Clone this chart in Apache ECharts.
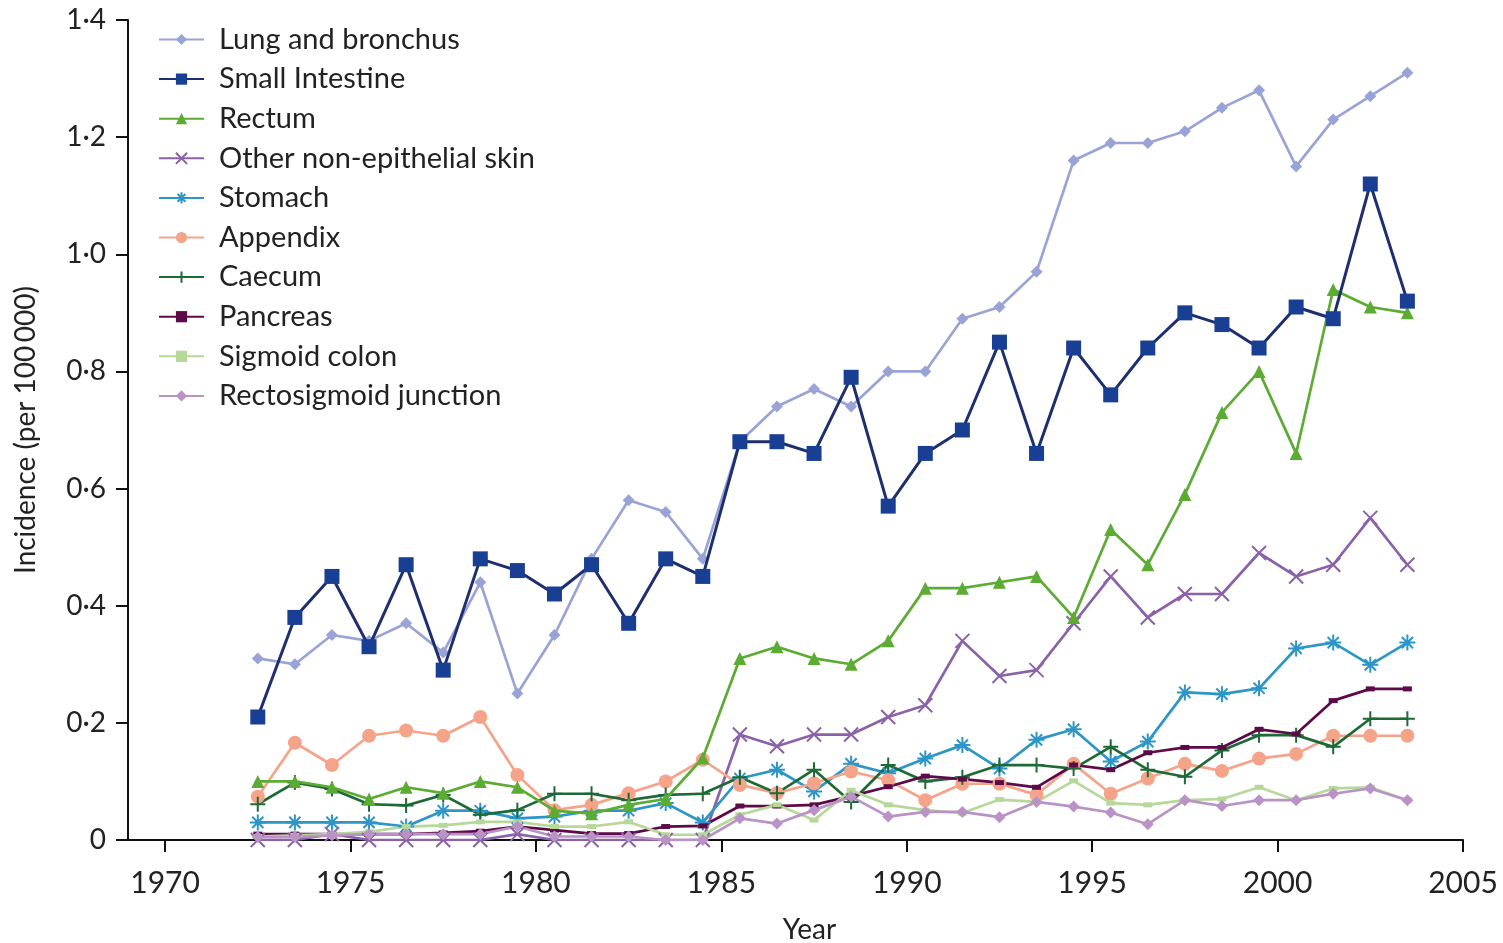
<!DOCTYPE html>
<html>
<head>
<meta charset="utf-8">
<script src="https://cdn.jsdelivr.net/npm/echarts@6/dist/echarts.min.js"></script>
<style>
html,body{margin:0;padding:0;background:#fff;}
#chart{width:1503px;height:943px;}
</style>
</head>
<body>
<div id="chart"></div>
<script>
const years = [1973,1974,1975,1976,1977,1978,1979,1980,1981,1982,1983,1984,1985,1986,1987,1988,1989,1990,1991,1992,1993,1994,1995,1996,1997,1998,1999,2000,2001,2002,2003,2004];
const xTickLabels = [1970,1975,1980,1985,1990,1995,2000,2005];

const lungBronchus = [0.31,0.30,0.35,0.34,0.37,0.32,0.44,0.25,0.35,0.48,0.58,0.56,0.48,0.68,0.74,0.77,0.74,0.80,0.80,0.89,0.91,0.97,1.16,1.19,1.19,1.21,1.25,1.28,1.15,1.23,1.27,1.31];
const smallIntestine = [0.21,0.38,0.45,0.33,0.47,0.29,0.48,0.46,0.42,0.47,0.37,0.48,0.45,0.68,0.68,0.66,0.79,0.57,0.66,0.70,0.85,0.66,0.84,0.76,0.84,0.90,0.88,0.84,0.91,0.89,1.12,0.92];
const rectum = [0.10,0.10,0.09,0.07,0.09,0.08,0.10,0.09,0.05,0.045,0.06,0.07,0.14,0.31,0.33,0.31,0.30,0.34,0.43,0.43,0.44,0.45,0.38,0.53,0.47,0.59,0.73,0.80,0.66,0.94,0.91,0.90];
const otherSkin = [0,0,0.01,0,0,0,0,0.01,0,0,0,0,0,0.18,0.16,0.18,0.18,0.21,0.23,0.34,0.28,0.29,0.37,0.45,0.38,0.42,0.42,0.49,0.45,0.47,0.55,0.47];
const stomach = [0.03,0.03,0.03,0.03,0.023,0.05,0.05,0.037,0.04,0.05,0.05,0.063,0.03,0.105,0.12,0.083,0.13,0.114,0.139,0.162,0.122,0.171,0.189,0.134,0.168,0.252,0.249,0.259,0.327,0.337,0.299,0.337];
const appendix = [0.074,0.166,0.128,0.178,0.187,0.178,0.21,0.111,0.051,0.06,0.08,0.10,0.137,0.094,0.08,0.097,0.117,0.102,0.068,0.096,0.096,0.077,0.13,0.079,0.105,0.13,0.118,0.139,0.147,0.178,0.178,0.178];
const caecum = [0.061,0.098,0.087,0.061,0.059,0.077,0.043,0.051,0.079,0.079,0.068,0.077,0.079,0.107,0.08,0.12,0.065,0.128,0.10,0.107,0.128,0.128,0.122,0.159,0.12,0.108,0.153,0.179,0.179,0.159,0.207,0.207];
const pancreas = [0.01,0.01,0.01,0.01,0.01,0.012,0.015,0.023,0.017,0.011,0.011,0.023,0.024,0.058,0.058,0.06,0.075,0.091,0.109,0.104,0.098,0.09,0.128,0.12,0.149,0.158,0.158,0.189,0.181,0.238,0.258,0.258];
const sigmoidColon = [0.006,0.008,0.01,0.014,0.023,0.025,0.031,0.031,0.023,0.023,0.031,0.009,0.009,0.043,0.06,0.034,0.085,0.06,0.051,0.046,0.069,0.065,0.101,0.063,0.06,0.068,0.07,0.09,0.068,0.088,0.09,0.068];
const rectosigmoid = [0.005,0.005,0.008,0.01,0.01,0.01,0.01,0.023,0.006,0.006,0.006,0,0,0.037,0.028,0.051,0.074,0.04,0.048,0.048,0.039,0.065,0.057,0.047,0.027,0.068,0.058,0.068,0.068,0.079,0.088,0.068];

function pts(vals){ return years.map((y,i)=>[y-0.5, vals[i]]); }

const FONT = 'Lato';
const X_PATH = 'path://M0,0L10,10M10,0L0,10';
const STAR_PATH = 'path://M5,0L5,10M0,5L10,5M1.5,1.5L8.5,8.5M8.5,1.5L1.5,8.5';
const PLUS_PATH = 'path://M5,0L5,10M0,5L10,5';

function mk(name, vals, color, symbol, size, opts){
  opts = opts || {};
  return {
    name: name, type:'line', data: pts(vals),
    symbol: symbol, symbolSize: size,
    showAllSymbol: true,
    lineStyle:{color: opts.lineColor || color, width: opts.width || 2.7},
    itemStyle:{color: color, borderColor: color, borderWidth: opts.bw || 0},
    z: opts.z || 2,
    emphasis:{disabled:true},
    animation:false
  };
}

const series = [
  mk('Lung and bronchus', lungBronchus, '#9aa3d6', 'diamond', 12, {z:3}),
  mk('Small Intestine', smallIntestine, '#183f93', 'rect', 15, {lineColor:'#1d2f6e', z:4, width:3}),
  mk('Rectum', rectum, '#5cab33', 'triangle', 13, {z:3}),
  mk('Other non-epithelial skin', otherSkin, '#8a62a8', X_PATH, 14, {bw:2}),
  mk('Stomach', stomach, '#2d96c6', STAR_PATH, 16, {bw:2}),
  mk('Appendix', appendix, '#f5a48a', 'circle', 14),
  mk('Caecum', caecum, '#1d6a36', PLUS_PATH, 15, {bw:2}),
  mk('Pancreas', pancreas, '#5c0a48', 'rect', [9,5]),
  mk('Sigmoid colon', sigmoidColon, '#b6d99a', 'rect', [9,5]),
  mk('Rectosigmoid junction', rectosigmoid, '#b993c6', 'diamond', 12)
];

const chart = echarts.init(document.getElementById('chart'), null, {renderer:'canvas'});
chart.setOption({
  animation:false,
  backgroundColor:'#fff',
  textStyle:{fontFamily:FONT},
  grid:{left:128, right:40, top:20, bottom:103, containLabel:false, outerBoundsMode:'none'},
  legend:{
    orient:'vertical', left:158, top:25, padding:0,
    itemWidth:45, itemHeight:14, itemGap:10.6,
    textStyle:{fontFamily:FONT, fontSize:29, color:'#222', padding:[0,0,0,10]},
    data: series.map(s=>s.name)
  },
  xAxis:{
    type:'value', min:1969, max:2005,
    name:'Year', nameLocation:'middle', nameGap:76,
    nameTextStyle:{fontFamily:FONT, fontSize:28, color:'#222', padding:[0,0,0,28]},
    axisLine:{show:true, onZero:false, lineStyle:{color:'#111', width:2}},
    axisTick:{show:true, customValues:xTickLabels, length:12, inside:false, lineStyle:{color:'#111', width:2}},
    axisLabel:{customValues:xTickLabels, fontFamily:FONT, fontSize:30, color:'#222', margin:28, formatter:v=>String(v)},
    splitLine:{show:false}
  },
  yAxis:{
    type:'value', min:0, max:1.4, interval:0.2,
    name:'Incidence (per 100\u2009000)', nameLocation:'middle', nameGap:88, nameRotate:90,
    nameTextStyle:{fontFamily:FONT, fontSize:28, color:'#222'},
    axisLine:{show:true, lineStyle:{color:'#111', width:2}},
    axisTick:{show:true, length:12, lineStyle:{color:'#111', width:2}},
    axisLabel:{fontFamily:FONT, fontSize:28, color:'#222', margin:22,
      formatter:v=> v===0 ? '0' : v.toFixed(1).replace('.', '\u00b7')},
    splitLine:{show:false}
  },
  series: series
});
</script>
</body>
</html>
